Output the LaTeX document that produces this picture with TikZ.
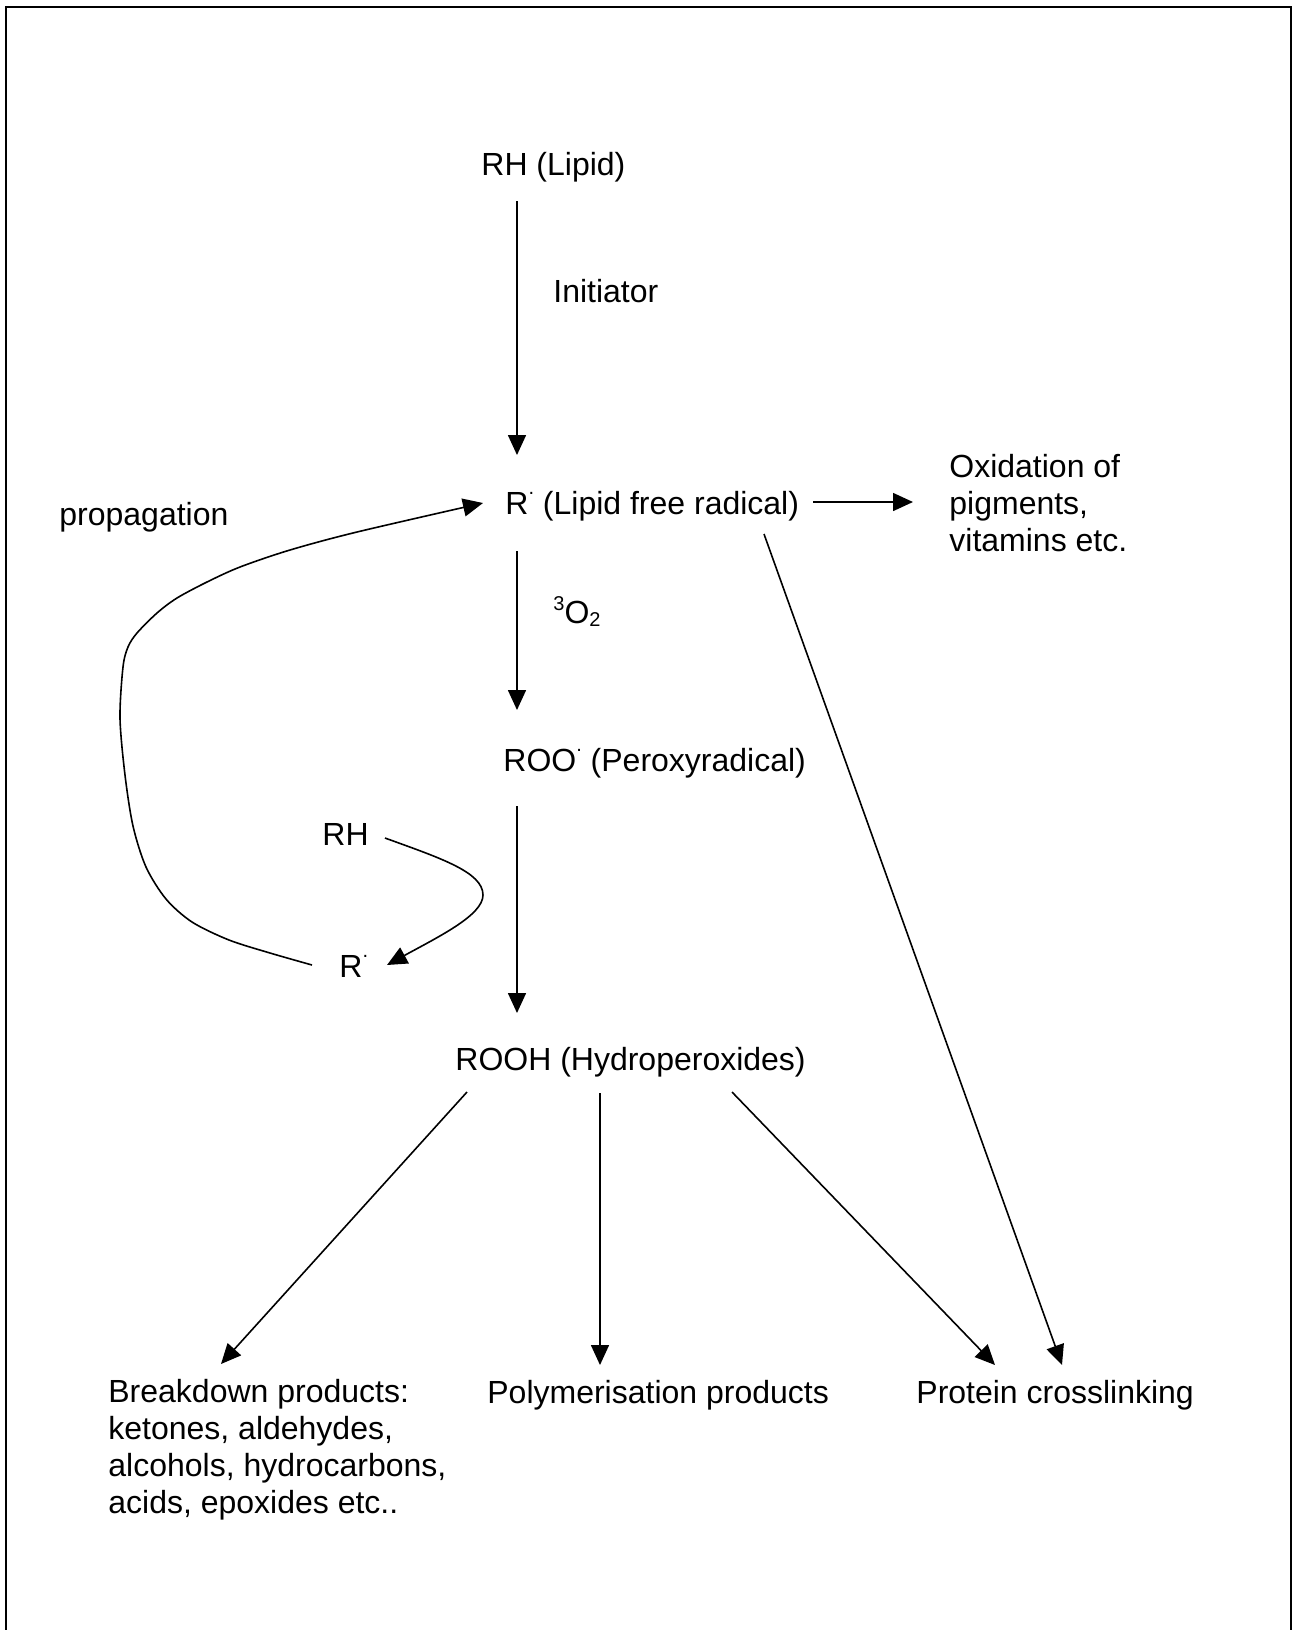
\documentclass[tikz,border=0pt]{standalone}
\usepackage{fontspec}
\setmainfont{Liberation Sans}
\usetikzlibrary{arrows.meta}
\newcommand\raddot{\raisebox{0.62em}{\fontsize{10}{10}\selectfont.}}
\newcommand\supthree{\raisebox{6.5pt}{\fontsize{10}{10}\selectfont 3}}
\newcommand\subtwo{\raisebox{-1.5pt}{\fontsize{10}{10}\selectfont 2}}
\begin{document}
\begin{tikzpicture}[x=0.5pt,y=-0.5pt,
  lbl/.style={anchor=base west, inner sep=0pt, font=\fontsize{16}{18.35}\selectfont, align=left},
  arr/.style={line width=0.8pt, -{Triangle[length=10pt,width=9pt]}}]
\useasboundingbox (0,0) rectangle (1293,1630);
\draw[line width=1.2pt] (6,1640) -- (6,7) -- (1291,7) -- (1291,1640);

% texts (multi-line nodes are placed by the baseline of their last line)
\node[lbl] (rh) at (481,175) {RH (Lipid)};
\node[lbl] (init) at (553,302) {Initiator};
\node[lbl] (r) at (505,514) {R\raddot\ (Lipid free radical)};
\node[lbl] (ox) at (949,551) {Oxidation of\\pigments,\\vitamins etc.};
\node[lbl] (prop) at (59,525) {propagation};
\node[lbl] (o2) at (553,623) {\supthree O\subtwo};
\node[lbl] (roo) at (503,771) {ROO\raddot\ (Peroxyradical)};
\node[lbl] (rh2) at (322,845) {RH};
\node[lbl] (r2) at (339,977) {R\raddot};
\node[lbl] (rooh) at (455,1070) {ROOH (Hydroperoxides)};
\node[lbl] (bd) at (108,1513) {Breakdown products:\\ketones, aldehydes,\\alcohols, hydrocarbons,\\acids, epoxides etc..};
\node[lbl] (poly) at (487,1403) {Polymerisation products};
\node[lbl] (prot) at (916,1403) {Protein crosslinking};

% connector end points
\coordinate (a1s) at (517,201);  \coordinate (a1e) at (517,455);
\coordinate (a2s) at (813,502);  \coordinate (a2e) at (913,502);
\coordinate (a3s) at (517,551);  \coordinate (a3e) at (517,710);
\coordinate (a4s) at (517,806);  \coordinate (a4e) at (517,1013);
\coordinate (a5s) at (385,838);  \coordinate (a5e) at (387,965);
\coordinate (a6s) at (312,965);  \coordinate (a6e) at (483,503);
\coordinate (a7s) at (764,534);  \coordinate (a7e) at (1062,1365);
\coordinate (a8s) at (467,1092); \coordinate (a8e) at (221,1364);
\coordinate (a9s) at (600,1093); \coordinate (a9e) at (600,1365);
\coordinate (a10s) at (732,1092); \coordinate (a10e) at (995,1365);

\draw[arr] (a1s) -- (a1e);
\draw[arr] (a2s) -- (a2e);
\draw[arr] (a3s) -- (a3e);
\draw[arr] (a4s) -- (a4e);
\draw[arr] (a5s) .. controls (440,858) and (483,872) .. (483,895)
                 .. controls (483,915) and (440,936) .. (a5e);
\draw[arr] plot[smooth, tension=0.5] coordinates {(a6s) (270,953) (229,940) (192,922) (166,899) (146,867) (133,826) (125,775) (120,718) (123,667) (128,647) (137,633) (157,613) (177,598) (207,582) (240,567) (290,550) (357,532) (a6e)};
\draw[arr] (a7s) -- (a7e);
\draw[arr] (a8s) -- (a8e);
\draw[arr] (a9s) -- (a9e);
\draw[arr] (a10s) -- (a10e);
\end{tikzpicture}
\end{document}
